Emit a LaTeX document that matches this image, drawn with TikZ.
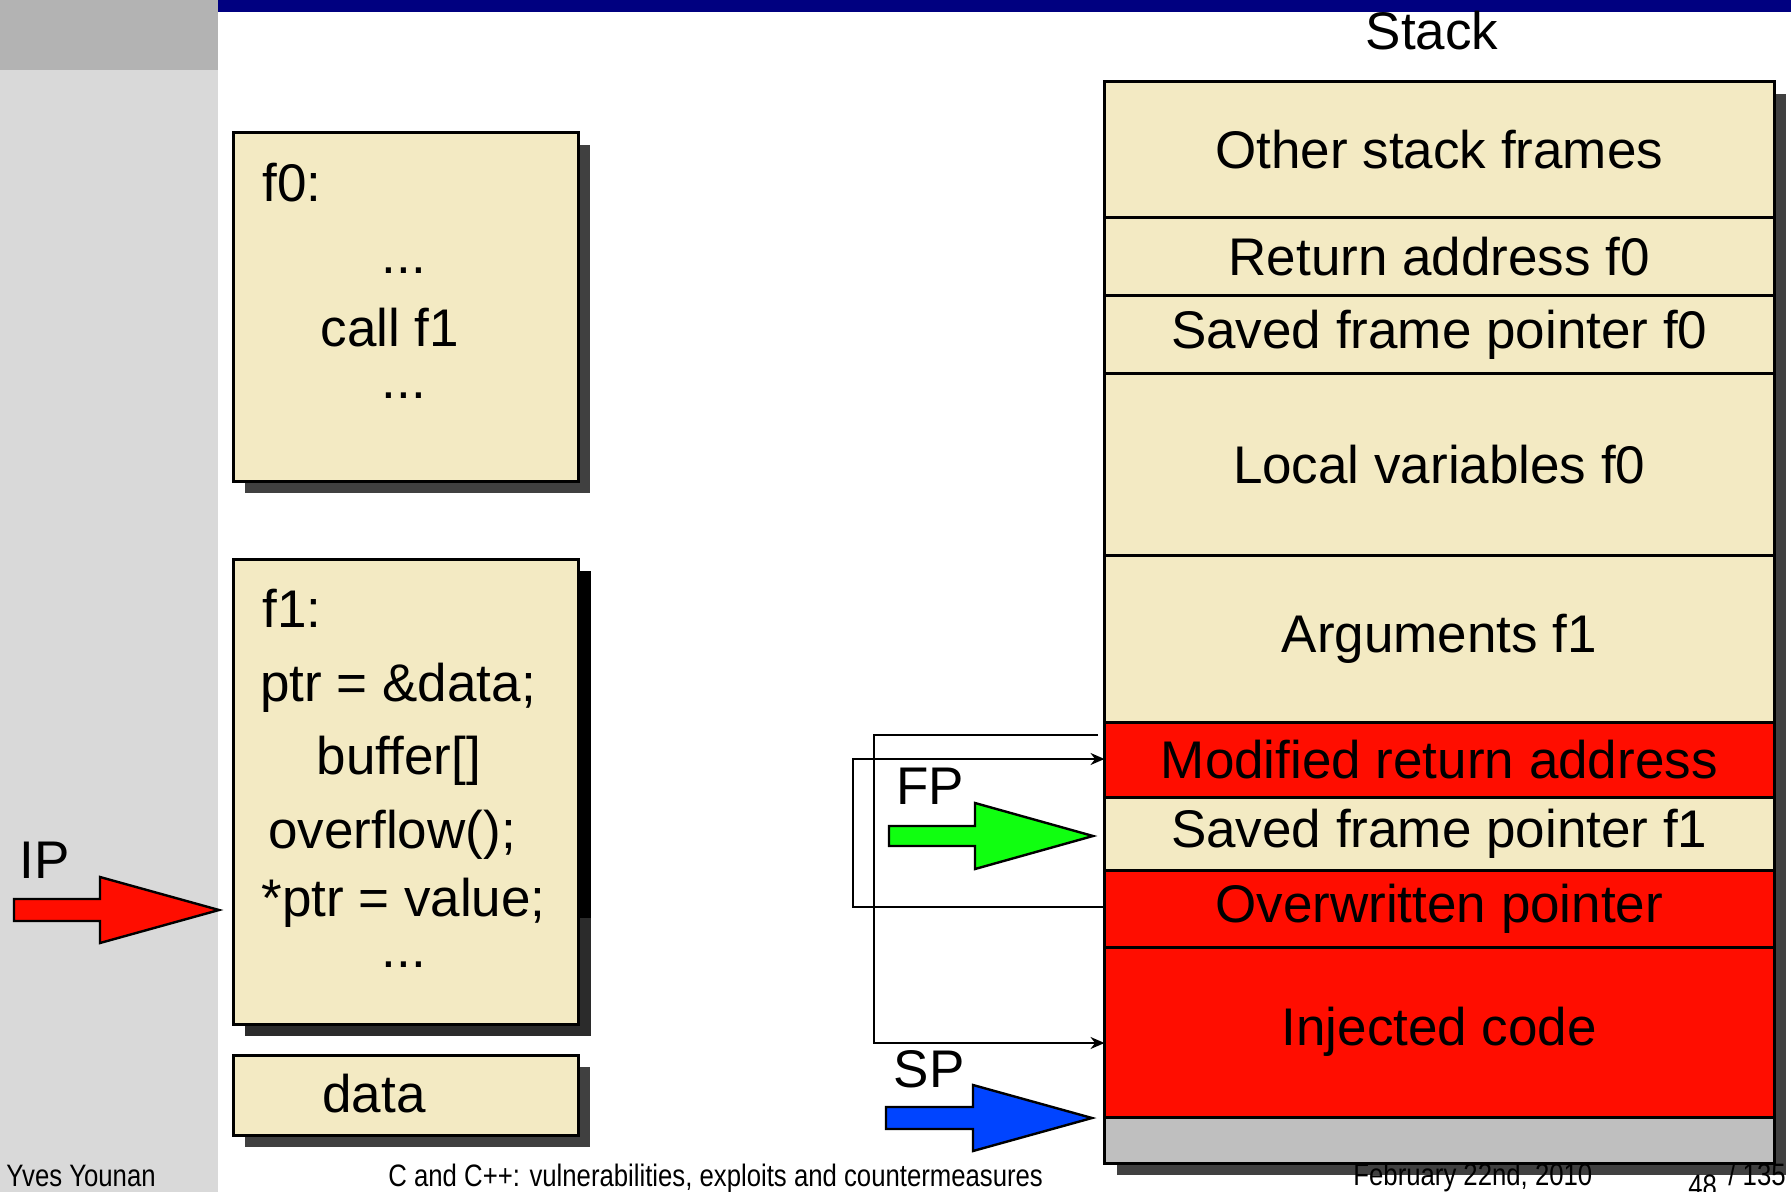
\documentclass[tikz,border=0pt]{standalone}
\usepackage{fontspec}
\setmainfont{Liberation Sans}
\newfontfamily\footfont[FakeStretch=0.83]{Liberation Sans}
\usetikzlibrary{arrows.meta,shadows}

\definecolor{beige}{HTML}{F3EAC3}
\definecolor{sred}{HTML}{FF0D00}
\definecolor{sgreen}{HTML}{10FF10}
\definecolor{sblue}{HTML}{0044FF}
\definecolor{sgray}{HTML}{BFBFBF}
\definecolor{shad}{HTML}{404040}
\definecolor{shaddark}{HTML}{2B2B2B}
\definecolor{navybar}{HTML}{000080}
\definecolor{side}{HTML}{D9D9D9}
\definecolor{sidetop}{HTML}{B3B3B3}

\begin{document}
\begin{tikzpicture}[x=0.5pt,y=-0.5pt,
  big/.style={font=\fontsize{26.5}{30}\selectfont, inner sep=0pt},
  box/.style={draw=black, line width=1.5pt, fill=beige},
  shadowed/.style={drop shadow={shadow xshift=6pt, shadow yshift=-6pt, fill=shad, opacity=1}},
  srow/.style={draw=black, line width=1.5pt, minimum width=334.75pt, inner sep=0pt, outer sep=0pt,
               anchor=north, font=\fontsize{26.5}{30}\selectfont},
  conn/.style={draw=black, line width=1pt},
  tipped/.style={-{Stealth[length=7pt,width=6pt]}},
  blockarrow/.style={draw=black, line width=1.2pt, line join=miter},
  foot/.style={font=\footfont\fontsize{15.5}{18}\selectfont, inner sep=0pt}]

\useasboundingbox (0,0) rectangle (1791,1192);
% slide background
\fill[side] (0,0) rectangle (218,1192);
\fill[sidetop] (0,0) rectangle (218,70);
\fill[navybar] (218,0) rectangle (1791,12);

% code boxes
\node[box, shadowed, minimum width=172.5pt, minimum height=174pt] (f0box) at (405.5,307) {};
\node[big, anchor=base west] (f0lbl) at (262,202) {f0:};
\node[big, anchor=base] (f0dotsa) at (404,274) {...};
\node[big, anchor=base] (f0call) at (390,346) {call f1};
\node[big, anchor=base] (f0dotsb) at (404,398) {...};

\fill[black] (245,571) rectangle (591,918);
\fill[shaddark] (245,918) rectangle (591,1036);
\node[box, minimum width=172.5pt, minimum height=232.5pt] (f1box) at (405.5,791.5) {};
\node[big, anchor=base west] (f1lbl) at (262,627) {f1:};
\node[big, anchor=base west] (f1ptr) at (260,701) {ptr = \&data;};
\node[big, anchor=base] (f1buf) at (399,774) {buffer[]};
\node[big, anchor=base west] (f1ovf) at (268,848) {overflow();};
\node[big, anchor=base west] (f1val) at (261,916) {*ptr = value;};
\node[big, anchor=base] (f1dots) at (404,967) {...};

\node[box, shadowed, minimum width=172.5pt, minimum height=40pt] (databox) at (405.5,1095) {};
\node[big, anchor=base] (datalbl) at (374,1112) {data};

% stack
\node[big, anchor=base] (stacklbl) at (1432,50) {Stack};
\fill[shad] (1116.5,94) rectangle (1786,1175);
\node[srow, fill=beige, minimum height=68pt] (other) at (1439.25,82) {Other stack frames};
\node[srow, fill=beige, minimum height=39pt] (retf0) at (other.south) {Return address f0};
\node[srow, fill=beige, minimum height=38.75pt] (sfpf0) at (retf0.south) {Saved frame pointer f0};
\node[srow, fill=beige, minimum height=90.75pt] (locf0) at (sfpf0.south) {Local variables f0};
\node[srow, fill=beige, minimum height=83.5pt] (argf1) at (locf0.south) {Arguments f1};
\node[srow, fill=sred, minimum height=37.5pt] (mod) at (argf1.south) {Modified return address};
\node[srow, fill=beige, minimum height=36.5pt] (sfpf1) at (mod.south) {Saved frame pointer f1};
\node[srow, fill=sred, minimum height=38.5pt] (ovr) at (sfpf1.south) {Overwritten pointer};
\node[srow, fill=sred, minimum height=85pt] (inj) at (ovr.south) {Injected code};
\node[srow, fill=sgray, minimum height=23pt] (bottom) at (inj.south) {};

% connectors
\coordinate (aStart) at (1098,735);
\coordinate (aBend) at (874,1043);
\draw[conn, tipped] (aStart) -| (aBend) -- (inj.west |- aBend);
\coordinate (bStart) at (0,907);
\coordinate (bBend) at (853,759);
\draw[conn, tipped] (ovr.west |- bStart) -| (bBend) -- (mod.west |- bBend);

% block arrows
\filldraw[blockarrow, fill=sgreen] (889,826) -- (975,826) -- (975,803) -- (1093,836)
  -- (975,869) -- (975,846) -- (889,846) -- cycle;
\node[big, anchor=base] (fplbl) at (930,804) {FP};
\filldraw[blockarrow, fill=sblue] (886,1107) -- (973,1107) -- (973,1085) -- (1092,1118)
  -- (973,1151) -- (973,1129) -- (886,1129) -- cycle;
\node[big, anchor=base] (splbl) at (929,1087) {SP};
\filldraw[blockarrow, fill=sred] (14,899) -- (100,899) -- (100,877) -- (219,910)
  -- (100,943) -- (100,921) -- (14,921) -- cycle;
\node[big, anchor=base] (iplbl) at (45,878) {IP};

% footer
\node[foot, anchor=base west] (author) at (6,1186) {Yves Younan};
\node[foot, anchor=base west] (title) at (388,1186) {C and C++: vulnerabilities, exploits and countermeasures};
\node[foot, anchor=base west] (date) at (1353,1185) {February 22nd, 2010};
\node[foot, anchor=base west] (pgnum) at (1688,1196) {48};
\node[foot, anchor=base west] (pgtot) at (1728,1185) {/ 135};
\end{tikzpicture}
\end{document}
